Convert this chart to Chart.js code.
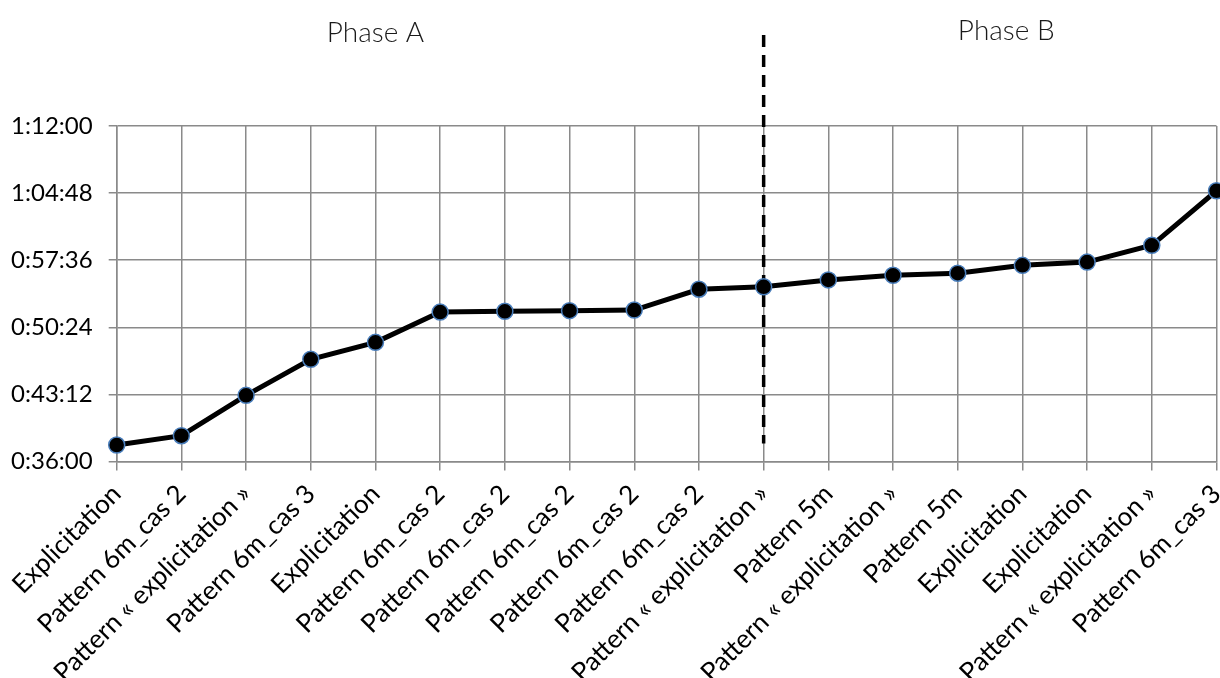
<!DOCTYPE html>
<html>
<head>
<meta charset="utf-8">
<script src="https://cdn.jsdelivr.net/npm/chart.js@4"></script>
<style>
  html, body { margin: 0; padding: 0; background: #fff; overflow: hidden; }
  #wrap { width: 1226px; height: 678px; }
</style>
</head>
<body>
<div id="wrap"><canvas id="phaseChart"></canvas></div>
<script>
const categories = [
  'Explicitation', 'Pattern 6m_cas 2', 'Pattern « explicitation »', 'Pattern 6m_cas 3',
  'Explicitation', 'Pattern 6m_cas 2', 'Pattern 6m_cas 2', 'Pattern 6m_cas 2',
  'Pattern 6m_cas 2', 'Pattern 6m_cas 2', 'Pattern « explicitation »', 'Pattern 5m',
  'Pattern « explicitation »', 'Pattern 5m', 'Explicitation', 'Explicitation',
  'Pattern « explicitation »', 'Pattern 6m_cas 3'
];

// durations in seconds
const durations = [
  2266, 2326, 2586, 2818, 2927, 3122, 3127, 3131, 3135,
  3269, 3285, 3329, 3359, 3372, 3423, 3444, 3552, 3903
];

const yMin = 2160;   // 0:36:00
const yMax = 4320;   // 1:12:00
const yStep = 432;   // 0:07:12

const phaseLabels = ['Phase A', 'Phase B'];
const phaseSplitIndex = 10;

const fmtTime = (s) => {
  const h = Math.floor(s / 3600);
  const m = Math.floor((s % 3600) / 60);
  const sec = Math.round(s % 60);
  return `${h}:${String(m).padStart(2, '0')}:${String(sec).padStart(2, '0')}`;
};

const phasePlugin = {
  id: 'phases',
  beforeDatasetsDraw(chart) {
    const ctx = chart.ctx;
    const x = chart.scales.x.getPixelForValue(phaseSplitIndex);
    ctx.save();
    ctx.strokeStyle = '#000';
    ctx.lineWidth = 3.5;
    ctx.setLineDash([12, 8]);
    ctx.beginPath();
    ctx.moveTo(x, 35);
    ctx.lineTo(x, chart.chartArea.bottom - 18);
    ctx.stroke();
    ctx.restore();
  },
  afterDraw(chart) {
    const ctx = chart.ctx;
    const xs = chart.scales.x;
    ctx.save();
    ctx.fillStyle = '#1a1a1a';
    ctx.font = '300 28px Lato';
    ctx.textAlign = 'center';
    ctx.textBaseline = 'middle';
    ctx.fillText(phaseLabels[0], xs.getPixelForValue(4), 33);
    ctx.fillText(phaseLabels[1], xs.getPixelForValue(13.75), 31);
    ctx.restore();
  }
};

new Chart(document.getElementById('phaseChart'), {
  type: 'line',
  data: {
    labels: categories,
    datasets: [{
      data: durations,
      borderColor: '#000',
      borderWidth: 5,
      pointRadius: 8,
      pointBackgroundColor: '#000',
      pointBorderColor: '#4a7ebb',
      pointBorderWidth: 1.5,
      tension: 0
    }]
  },
  options: {
    responsive: true,
    maintainAspectRatio: false,
    animation: false,
    layout: { padding: { top: 126, right: 0, left: 0, bottom: 0 } },
    plugins: {
      legend: { display: false },
      tooltip: { enabled: false }
    },
    scales: {
      x: {
        offset: false,
        grid: { color: '#8a8a8a', lineWidth: 1.5, tickLength: 9 },
        border: { color: '#8a8a8a', width: 1.5 },
        ticks: {
          autoSkip: false,
          maxRotation: 45,
          minRotation: 45,
          color: '#000',
          font: { family: 'Lato', size: 26 },
          padding: 8
        },
        afterFit: (scale) => {
          scale.height = 216.5;
          scale.paddingLeft = 0;
          scale.paddingRight = 0;
        }
      },
      y: {
        min: yMin,
        max: yMax,
        grid: { color: '#8a8a8a', lineWidth: 1.5, tickLength: 8 },
        border: { color: '#8a8a8a', width: 1.5 },
        ticks: {
          stepSize: yStep,
          color: '#000',
          font: { family: 'Lato', size: 24 },
          padding: 16,
          callback: (v) => fmtTime(v)
        },
        afterFit: (scale) => { scale.width = 116.7; }
      }
    }
  },
  plugins: [phasePlugin]
});
</script>
</body>
</html>
